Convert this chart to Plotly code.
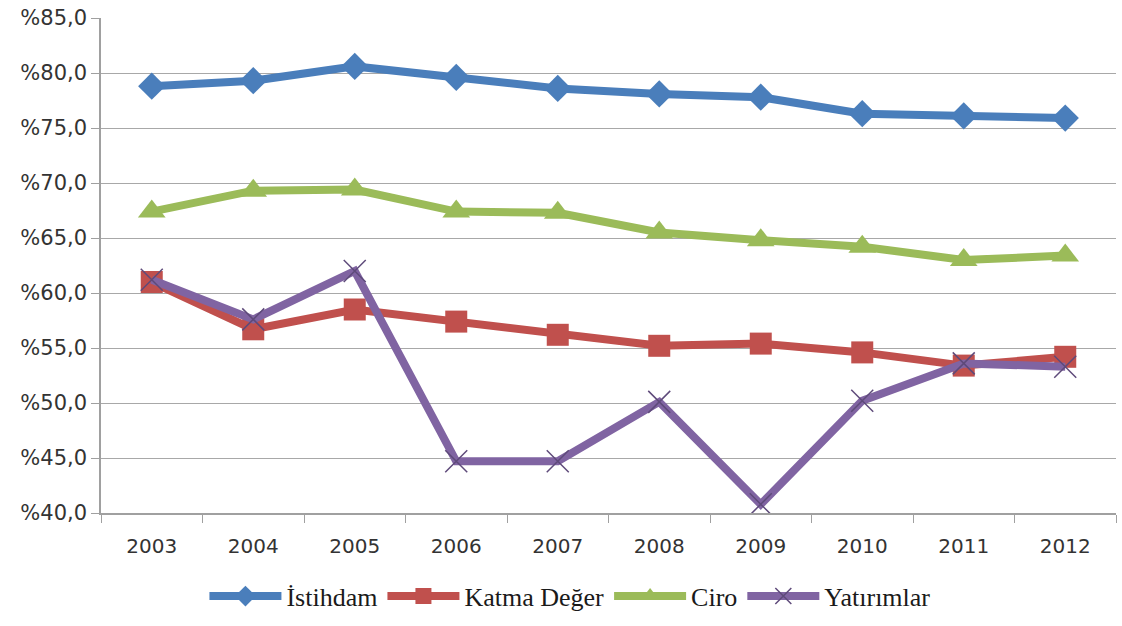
import plotly.graph_objects as go

years = ["2003", "2004", "2005", "2006", "2007", "2008", "2009", "2010", "2011", "2012"]
istihdam = [78.8, 79.3, 80.6, 79.6, 78.6, 78.1, 77.8, 76.3, 76.1, 75.9]
katma_deger = [61.0, 56.7, 58.5, 57.4, 56.2, 55.2, 55.4, 54.6, 53.4, 54.2]
ciro = [67.4, 69.3, 69.4, 67.4, 67.3, 65.5, 64.8, 64.2, 63.0, 63.4]
yatirimlar = [61.2, 57.6, 62.0, 44.7, 44.7, 50.1, 40.8, 50.2, 53.6, 53.3]
y_ticks = [40, 45, 50, 55, 60, 65, 70, 75, 80, 85]
y_tick_text = ["%" + f"{v:.1f}".replace(".", ",") for v in y_ticks]

fig = go.Figure()
fig.add_trace(go.Scatter(x=years, y=istihdam, name="İstihdam", mode="lines+markers",
                         line=dict(color="#4A7EBB", width=8),
                         marker=dict(symbol="diamond", size=21, color="#4A7EBB")))
fig.add_trace(go.Scatter(x=years, y=katma_deger, name="Katma Değer", mode="lines+markers",
                         line=dict(color="#C0504D", width=8),
                         marker=dict(symbol="square", size=22, color="#C0504D")))
fig.add_trace(go.Scatter(x=years, y=ciro, name="Ciro", mode="lines+markers",
                         line=dict(color="#9BBB59", width=8),
                         marker=dict(symbol="triangle-up", size=24, color="#9BBB59")))
fig.add_trace(go.Scatter(x=years, y=yatirimlar, name="Yatırımlar", mode="lines+markers",
                         line=dict(color="#8064A2", width=8),
                         marker=dict(symbol="x-thin", size=22, color="#8064A2",
                                     line=dict(color="#5E4A7A", width=1.5))))

fig.update_layout(
    width=1122, height=626,
    margin=dict(l=101, r=6, t=16, b=110),
    paper_bgcolor="white", plot_bgcolor="white",
    showlegend=True,
    legend=dict(orientation="h", x=0.462, xanchor="center", y=-0.168, yanchor="middle",
                font=dict(family="Liberation Serif", size=26, color="#1a1a1a"),
                itemwidth=72, tracegroupgap=0),
    font=dict(family="DejaVu Sans", size=21, color="#333333"),
)
fig.update_xaxes(type="category", range=[-0.5, 9.5], showgrid=False,
                 showline=True, linecolor="#A0A0A0", linewidth=1.5,
                 ticks="outside", tickson="boundaries", ticklen=8, tickcolor="#A0A0A0",
                 ticklabelstandoff=14,
                 tickfont=dict(family="DejaVu Sans", size=20, color="#333333"))
fig.update_yaxes(range=[40, 85], tickvals=y_ticks, ticktext=y_tick_text,
                 showgrid=True, gridcolor="#A8A8A8", gridwidth=1.2,
                 showline=True, linecolor="#A0A0A0", linewidth=1.5,
                 ticks="outside", ticklen=8, tickcolor="#A0A0A0", zeroline=False,
                 tickfont=dict(family="DejaVu Sans", size=21, color="#333333"))

fig.write_html("out.html")
